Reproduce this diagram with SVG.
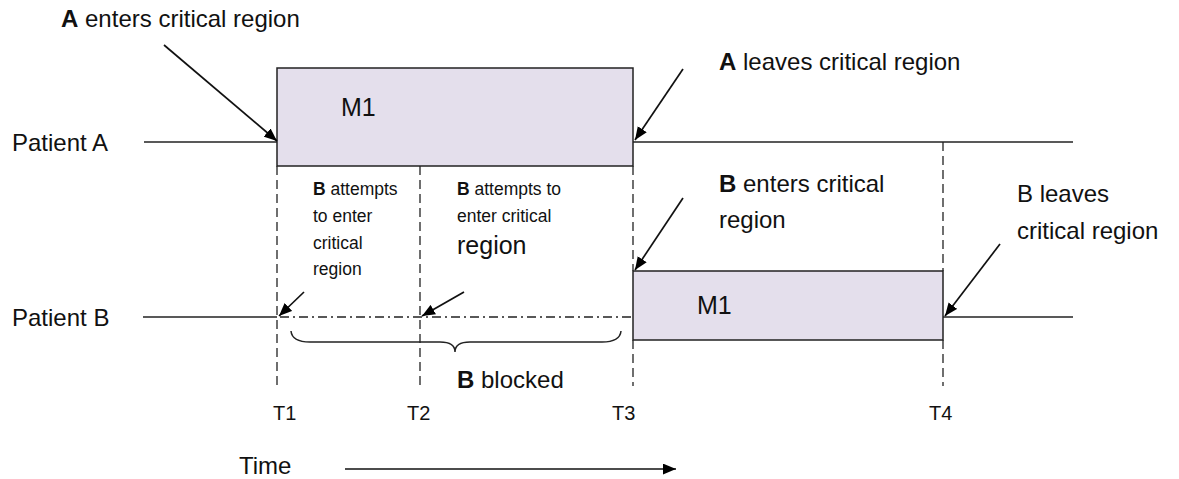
<svg xmlns="http://www.w3.org/2000/svg" width="1179" height="479" viewBox="0 0 1179 479">
  <defs>
    <marker id="ah" viewBox="0 0 12 10" refX="12" refY="5" markerWidth="13" markerHeight="11" markerUnits="userSpaceOnUse" orient="auto">
      <path d="M0,0 L12,5 L0,10 z" fill="#000"/>
    </marker>
  </defs>
  <style>
    text { font-family: "Liberation Sans", Arial, sans-serif; fill: #111; }
    .lg { font-size: 24px; }
    .xl { font-size: 25px; }
    .md { font-size: 20px; }
    .sm { font-size: 17.5px; }
    .b { font-weight: bold; }
    .box { fill: #e4dfec; stroke: #222; stroke-width: 1.5; }
    .ln { stroke: #222; stroke-width: 1.5; fill: none; }
    .dash { stroke: #222; stroke-width: 1.3; stroke-dasharray: 9 5; fill: none; }
    .dashdot { stroke: #222; stroke-width: 1.3; stroke-dasharray: 9 4 2 4; fill: none; }
    .arr { stroke: #111; stroke-width: 1.7; fill: none; marker-end: url(#ah); }
  </style>
  <rect width="1179" height="479" fill="#fff"/>

  <!-- timelines -->
  <g id="timelines">
    <line class="ln" x1="144" y1="142" x2="277" y2="142"/>
    <line class="ln" x1="633" y1="142" x2="1073" y2="142"/>
    <line class="ln" x1="143" y1="317" x2="277" y2="317"/>
    <line class="dashdot" x1="280" y1="317" x2="633" y2="317"/>
    <line class="ln" x1="943" y1="317" x2="1073" y2="317"/>
  </g>

  <!-- time markers -->
  <g id="markers">
    <line class="dash" x1="277" y1="166" x2="277" y2="386"/>
    <line class="dash" x1="420" y1="166" x2="420" y2="386"/>
    <line class="dash" x1="633" y1="166" x2="633" y2="271"/>
    <line class="dash" x1="633" y1="340" x2="633" y2="386"/>
    <line class="dash" x1="943" y1="142" x2="943" y2="271"/>
    <line class="dash" x1="943" y1="340" x2="943" y2="386"/>
  </g>

  <g id="m1-a">
    <rect class="box" x="277" y="68" width="356" height="98"/>
    <text class="xl" x="341" y="116">M1</text>
  </g>
  <g id="m1-b">
    <rect class="box" x="633" y="271" width="310" height="69"/>
    <text class="xl" x="697" y="314">M1</text>
  </g>

  <g id="labels">
    <text class="lg" x="12" y="151">Patient A</text>
    <text class="lg" x="12" y="326">Patient B</text>
    <text class="lg" x="61" y="27"><tspan class="b">A</tspan> enters critical region</text>
    <text class="lg" x="719" y="70"><tspan class="b">A</tspan> leaves critical region</text>
    <text class="lg" x="719" y="192"><tspan class="b">B</tspan> enters critical</text>
    <text class="lg" x="719" y="228">region</text>
    <text class="lg" x="1017" y="202">B leaves</text>
    <text class="lg" x="1017" y="239">critical region</text>
    <text class="sm" x="313" y="195"><tspan class="b">B</tspan> attempts</text>
    <text class="sm" x="313" y="222">to enter</text>
    <text class="sm" x="313" y="249">critical</text>
    <text class="sm" x="313" y="275">region</text>
    <text class="sm" x="457" y="195"><tspan class="b">B</tspan> attempts to</text>
    <text class="sm" x="457" y="222">enter critical</text>
    <text class="xl" x="457" y="254">region</text>
    <text class="lg" x="457" y="388"><tspan class="b">B</tspan> blocked</text>
    <text class="md" x="273" y="420">T1</text>
    <text class="md" x="407" y="420">T2</text>
    <text class="md" x="612" y="420">T3</text>
    <text class="md" x="929" y="420">T4</text>
    <text class="lg" x="239" y="474">Time</text>
  </g>

  <!-- connectors -->
  <g id="connectors">
    <line class="arr" x1="164" y1="45" x2="277" y2="141"/>
    <line class="arr" x1="683" y1="69" x2="635" y2="140"/>
    <line class="arr" x1="683" y1="198" x2="635" y2="270"/>
    <line class="arr" x1="1000" y1="244" x2="945" y2="316"/>
    <line class="arr" x1="304" y1="292" x2="279" y2="316"/>
    <line class="arr" x1="464" y1="292" x2="422" y2="316"/>
    <line class="arr" x1="345" y1="469" x2="676" y2="469"/>
    <path class="ln" stroke-width="1.2" d="M291,331 Q292,342 310,342 L440,342 Q455,342 455,352 Q455,342 470,342 L602,342 Q620,342 621,331"/>
  </g>
</svg>
